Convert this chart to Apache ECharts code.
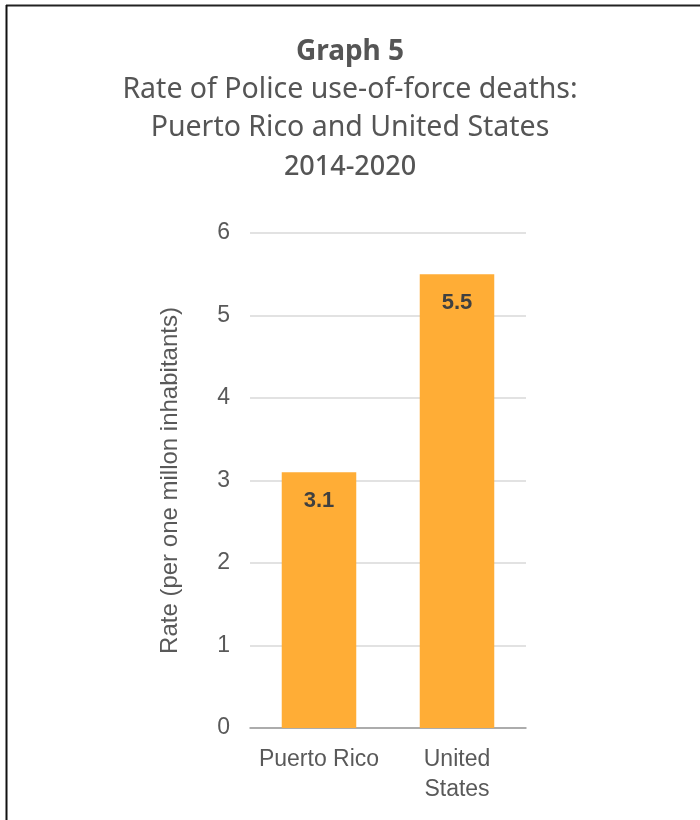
<!DOCTYPE html>
<html>
<head>
<meta charset="utf-8">
<script src="https://cdn.jsdelivr.net/npm/echarts@6/dist/echarts.min.js"></script>
<style>
  html, body { margin: 0; padding: 0; background: #fff; }
  #chart { width: 700px; height: 820px; }
</style>
</head>
<body>
<div id="chart"></div>
<script>
// Rates of police use-of-force deaths per one million inhabitants, 2014-2020
const categories = ['Puerto Rico', 'United\nStates'];
const rates = [3.1, 5.5];
const yTicks = [0, 1, 2, 3, 4, 5, 6];

const titleFont = '"Noto Sans", "Open Sans", sans-serif';
const bodyFont = '"Liberation Sans", Arial, sans-serif';

const chart = echarts.init(document.getElementById('chart'), null, { renderer: 'canvas' });

chart.setOption({
  backgroundColor: '#ffffff',
  animation: false,
  graphic: [
    // frame lines along the top and left edges
    { type: 'line', shape: { x1: 6, y1: 5.5, x2: 700, y2: 5.5 }, style: { stroke: '#222', lineWidth: 2 } },
    { type: 'line', shape: { x1: 6.5, y1: 5, x2: 6.5, y2: 820 }, style: { stroke: '#111', lineWidth: 2 } },
    { type: 'text', left: 'center', top: 38,
      style: { text: 'Graph 5', font: 'bold 28px ' + titleFont, fill: '#555555' } },
    { type: 'text', left: 'center', top: 75,
      style: { text: 'Rate of Police use-of-force deaths:', font: '28.5px ' + titleFont, fill: '#555555' } },
    { type: 'text', left: 'center', top: 113,
      style: { text: 'Puerto Rico and United States', font: '28.5px ' + titleFont, fill: '#555555' } },
    { type: 'text', left: 'center', top: 154,
      style: { text: '2014-2020', font: '500 27px ' + titleFont, fill: '#555555' } }
  ],
  grid: { left: 250, right: 174, top: 233, bottom: 92, containLabel: false },
  xAxis: {
    type: 'category',
    data: categories,
    axisLine: { lineStyle: { color: '#9a9a9a', width: 1.5 } },
    axisTick: { show: false },
    axisLabel: {
      interval: 0,
      color: '#595959', fontFamily: bodyFont, fontSize: 23, margin: 17, lineHeight: 30
    }
  },
  yAxis: {
    type: 'value',
    min: yTicks[0],
    max: yTicks[yTicks.length - 1],
    interval: 1,
    name: 'Rate (per one millon inhabitants)',
    nameLocation: 'middle',
    nameGap: 68,
    nameTextStyle: { color: '#595959', fontFamily: bodyFont, fontSize: 24 },
    axisLine: { show: false },
    axisTick: { show: false },
    axisLabel: { color: '#595959', fontFamily: bodyFont, fontSize: 23, margin: 20 },
    splitLine: { lineStyle: { color: '#d9d9d9', width: 1.5 } }
  },
  series: [{
    type: 'bar',
    data: rates,
    barWidth: '54%',
    itemStyle: { color: '#FFAD36' },
    label: {
      show: true,
      position: 'insideTop',
      distance: 18,
      color: '#404040',
      fontFamily: bodyFont,
      fontWeight: 'bold',
      fontSize: 22
    }
  }]
});
</script>
</body>
</html>
